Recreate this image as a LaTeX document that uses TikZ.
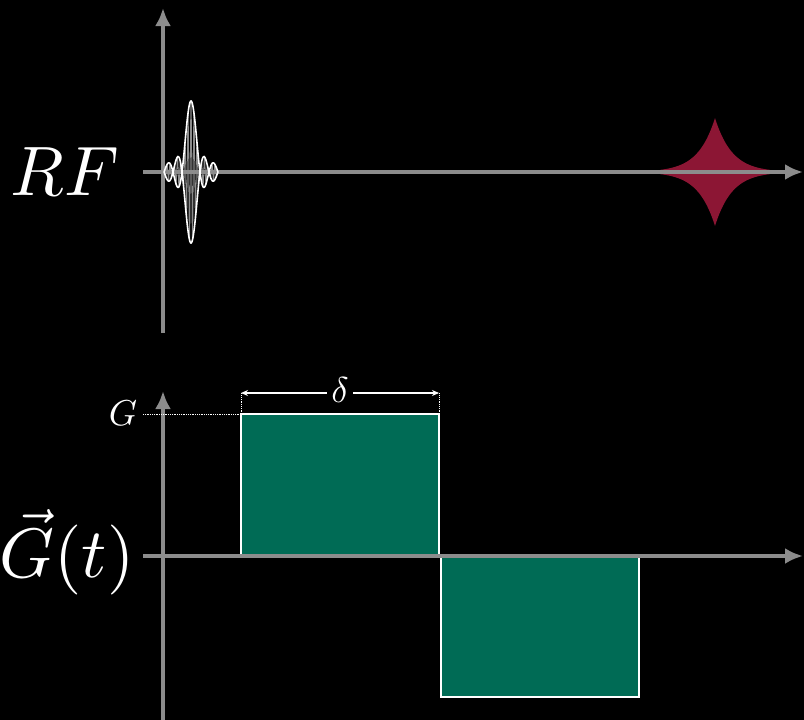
\documentclass[tikz,border=0pt]{standalone}
\usepackage{graphicx}
\usetikzlibrary{arrows.meta}
\definecolor{axisgray}{RGB}{140,140,140}
\definecolor{gradgreen}{RGB}{0,107,85}
\definecolor{echored}{RGB}{140,22,52}
\newcommand{\bigmath}[1]{\scalebox{7}{$#1$}}
\newcommand{\smallmath}[1]{\scalebox{3.6}{$#1$}}
\begin{document}
\begin{tikzpicture}[x=1pt,y=-1pt,
  axis/.style={draw=axisgray,line width=4pt,-{Latex[length=18pt,width=16pt]}},
  bigtxt/.style={text=white,inner sep=0pt},
  smalltxt/.style={text=white,inner sep=1pt}]
\fill[black] (0,0) rectangle (804,720);
\useasboundingbox (0,0) rectangle (804,720);
% RF axes
\coordinate (rfvb) at (163,333);
\coordinate (rfvt) at (163,8);
\coordinate (rfhl) at (143,172);
\coordinate (rfhr) at (803,172);
% echo
\fill[echored] plot[domain=-55:55,samples=221] ({715+\x},{172-54*exp(-abs(\x)/17)})
  -- plot[domain=55:-55,samples=221] ({715+\x},{172+54*exp(-abs(\x)/17)}) -- cycle;
\draw[axis] (rfvb) -- (rfvt);
\draw[axis] (rfhl) -- (rfhr);
% sinc pulse
\draw[axisgray,line width=0.8pt] plot[domain=-27:27,samples=400]
  ({191+\x},{172-71*sin(20*\x)/(0.3490658*\x)*cos(120*\x)});
\draw[white,line width=1.6pt] plot[domain=-27:27,samples=200]
  ({191+\x},{172-71*sin(20*\x)/(0.3490658*\x)});
\draw[white,line width=1.6pt] plot[domain=-27:27,samples=200]
  ({191+\x},{172+71*sin(20*\x)/(0.3490658*\x)});
\node[bigtxt] (rf) at (65,172) {\bigmath{RF}};
% Gradient
\node[draw=white,fill=gradgreen,line width=2pt,outer sep=0pt,minimum width=198pt,minimum height=142pt,anchor=south west,inner sep=0pt] (lobe1) at (241,556) {};
\node[draw=white,fill=gradgreen,line width=2pt,outer sep=0pt,minimum width=198pt,minimum height=141pt,anchor=north west,inner sep=0pt] (lobe2) at (441,556) {};
\coordinate (gvb) at (163,720);
\coordinate (gvt) at (163,391);
\coordinate (ghl) at (143,556);
\coordinate (ghr) at (803,556);
\draw[axis] (gvb) -- (gvt);
\draw[axis] (ghl) -- (ghr);
\node[bigtxt] (gt) at (67,552) {\bigmath{\vec{G}(t)}};
\node[smalltxt] (glab) at (123,413) {\smallmath{G}};
\coordinate (gl) at (143,0);
\draw[white,densely dotted,line width=0.8pt] (gl |- lobe1.north west) -- (lobe1.north west);
\coordinate (dl) at (241,393);
\coordinate (dr) at (439,393);
\draw[white,densely dotted,line width=0.8pt] (lobe1.north west) -- (dl);
\draw[white,densely dotted,line width=0.8pt] (lobe1.north east) -- (dr);
\draw[white,line width=1.2pt,{Stealth[length=7pt,width=6pt]}-{Stealth[length=7pt,width=6pt]}] (dl) -- (dr);
\node[smalltxt,fill=black,inner xsep=4pt] (delta) at (340,390) {\smallmath{\delta}};
\end{tikzpicture}
\end{document}
